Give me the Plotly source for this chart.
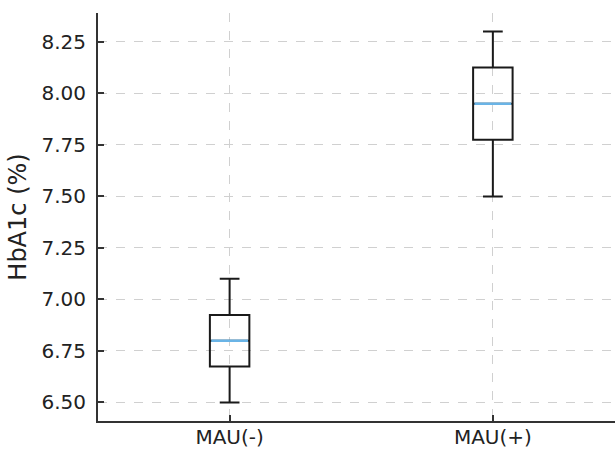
import plotly.graph_objects as go

categories = ["MAU(-)", "MAU(+)"]
positions = [1, 2]
lower_whisker = [6.50, 7.50]
q1 = [6.675, 7.775]
median = [6.80, 7.95]
q3 = [6.925, 8.125]
upper_whisker = [7.10, 8.30]
y_ticks = [6.50, 6.75, 7.00, 7.25, 7.50, 7.75, 8.00, 8.25]

BOX_W = 0.15

fig = go.Figure()
fig.add_trace(go.Box(
    x=positions,
    q1=q1, median=median, q3=q3,
    lowerfence=lower_whisker, upperfence=upper_whisker,
    width=BOX_W,
    whiskerwidth=0.5,
    fillcolor="rgba(0,0,0,0)",
    line=dict(color="#1a1a1a", width=2),
    boxpoints=False,
    hoverinfo="skip",
    showlegend=False,
))
# median lines in light blue
for p, m in zip(positions, median):
    fig.add_trace(go.Scatter(
        x=[p - BOX_W / 2 + 0.005, p + BOX_W / 2 - 0.005], y=[m, m],
        mode="lines", line=dict(color="#6ab4e6", width=2.5),
        showlegend=False, hoverinfo="skip",
    ))

grid = dict(showgrid=True, gridcolor="#d0d0d0", griddash="dash", gridwidth=1)
fig.update_layout(
    width=616, height=449,
    margin=dict(l=98, r=1, t=13, b=28),
    plot_bgcolor="white", paper_bgcolor="white",
    font=dict(family="DejaVu Sans", size=20, color="#222222"),
    xaxis=dict(
        range=[0.5, 2.464],
        tickmode="array", tickvals=positions, ticktext=categories,
        ticks="inside", ticklen=6, tickcolor="#333333", tickwidth=1.5,
        showline=True, linecolor="#333333", linewidth=2,
        zeroline=False, ticklabelstandoff=-3, automargin=False, **grid,
    ),
    yaxis=dict(
        range=[6.41, 8.39],
        tickmode="array", tickvals=y_ticks,
        ticktext=[f"{v:.2f}" for v in y_ticks],
        ticks="inside", ticklen=6, tickcolor="#333333", tickwidth=1.5,
        showline=True, linecolor="#333333", linewidth=2,
        zeroline=False, ticklabelstandoff=6, automargin=False,
        title=dict(text="HbA1c (%)", standoff=8),
        **grid,
    ),
)

fig.write_html(
    "out.html",
    config={"displayModeBar": False},
    post_script="document.body.style.margin='0';document.body.style.overflow='hidden';",
)
